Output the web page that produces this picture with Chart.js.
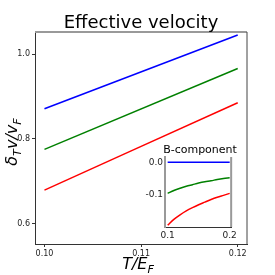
<html>
<head>
    <title>Effective velocity</title>
    <script src="https://cdn.jsdelivr.net/npm/chart.js"></script>
</head>
<style>
    body{ margin:0; background:#fff; }
    #wrap{ position:relative; width:275px; height:275px; }
    #inset{ position:absolute; left:145px; top:140px; }
</style>
<body>
<div id="wrap">
<canvas id="mainCanvas" width="275" height="275"></canvas>
<canvas id="inset" width="95" height="100"></canvas>
</div>
</body>

<script>
// main panel data
const tempX = [0.10, 0.12];
const blueY = [0.871, 1.045];
const greenY = [0.775, 0.966];
const redY = [0.679, 0.885];
const mainXTicks = [0.10, 0.11, 0.12];
const mainYTicks = [0.6, 0.8, 1.0];

// inset (B-component) data
const insetX = [0.10, 0.11, 0.12, 0.13, 0.14, 0.15, 0.16, 0.17, 0.18, 0.19, 0.20];
const insetBlue = [0.0, 0.0, 0.0, 0.0, 0.0, 0.0, 0.0, 0.0, 0.0, 0.0, 0.0];
const insetGreen = [-0.096, -0.087, -0.080, -0.074, -0.069, -0.064, -0.060, -0.057, -0.053, -0.050, -0.048];
const insetRed = [-0.194, -0.176, -0.162, -0.150, -0.140, -0.131, -0.123, -0.115, -0.108, -0.102, -0.096];
const insetXTicks = [0.1, 0.2];
const insetYTicks = [-0.1, 0.0];

const FONT = '"DejaVu Sans", sans-serif';
const INK = '#222';

function pts(xs, ys){
    return xs.map((x, i) => ({x: x, y: ys[i]}));
}

function line(label, xs, ys, color){
    return {
        label: label,
        data: pts(xs, ys),
        borderColor: color,
        borderWidth: 1.5,
        pointRadius: 0,
        cubicInterpolationMode: 'monotone',
        fill: false
    };
}

// draw text with subscripts, segments = [[text, isSub], ...]
function drawMath(ctx, segs, size){
    let total = 0;
    const widths = segs.map(s => {
        ctx.font = 'italic ' + (s[1] ? size * 0.7 : size) + 'px ' + FONT;
        const w = ctx.measureText(s[0]).width;
        total += w;
        return w;
    });
    let x = -total / 2;
    segs.forEach((s, i) => {
        ctx.font = 'italic ' + (s[1] ? size * 0.7 : size) + 'px ' + FONT;
        ctx.fillText(s[0], x, s[1] ? size * 0.25 : 0);
        x += widths[i];
    });
}

const mainDecor = {
    id: 'mainDecor',
    afterDraw(chart){
        const ctx = chart.ctx;
        const a = chart.chartArea;
        ctx.save();
        // top and right frame
        ctx.strokeStyle = '#999';
        ctx.lineWidth = 2;
        ctx.beginPath();
        ctx.moveTo(a.left, a.top);
        ctx.lineTo(a.right, a.top);
        ctx.stroke();
        ctx.strokeStyle = '#444';
        ctx.lineWidth = 1;
        ctx.beginPath();
        ctx.moveTo(a.right, a.top);
        ctx.lineTo(a.right, a.bottom);
        ctx.stroke();

        ctx.fillStyle = '#000';
        ctx.textBaseline = 'alphabetic';
        // title
        ctx.font = '18px ' + FONT;
        ctx.textAlign = 'center';
        ctx.fillText('Effective velocity', 141, 27.5);
        ctx.textAlign = 'left';

        // x label
        ctx.save();
        ctx.translate(138, 269);
        drawMath(ctx, [['T/E', false], ['F', true]], 16);
        ctx.restore();

        // y label
        ctx.save();
        ctx.translate(17, 142);
        ctx.rotate(-Math.PI / 2);
        drawMath(ctx, [['\u03B4', false], ['T', true], ['v/v', false], ['F', true]], 16);
        ctx.restore();
        ctx.restore();
    }
};

new Chart(document.getElementById('mainCanvas'), {
    type: 'line',
    data: {
        datasets: [
            line('blue', tempX, blueY, '#0000ff'),
            line('green', tempX, greenY, '#008000'),
            line('red', tempX, redY, '#ff0000')
        ]
    },
    options: {
        responsive: false,
        animation: false,
        layout: { padding: { top: 32, right: 28, left: 0, bottom: 0 } },
        plugins: { legend: { display: false }, tooltip: { enabled: false } },
        scales: {
            x: {
                type: 'linear',
                min: 0.09902,
                max: 0.12096,
                afterBuildTicks: s => { s.ticks = mainXTicks.map(v => ({value: v})); },
                afterFit: s => { s.height = 31; },
                border: { color: '#333', width: 1 },
                grid: { drawOnChartArea: false, tickLength: 3, color: '#333' },
                ticks: {
                    font: { family: FONT, size: 8 },
                    color: INK,
                    padding: 2,
                    maxRotation: 0,
                    callback: v => v.toFixed(2)
                }
            },
            y: {
                min: 0.5518,
                max: 1.052,
                afterBuildTicks: s => { s.ticks = mainYTicks.map(v => ({value: v})); },
                afterFit: s => { s.width = 35; },
                border: { color: '#333', width: 1 },
                grid: { drawOnChartArea: false, tickLength: 3, color: '#333' },
                ticks: {
                    font: { family: FONT, size: 8 },
                    color: INK,
                    padding: 2,
                    callback: v => v.toFixed(1)
                }
            }
        }
    },
    plugins: [mainDecor]
});

const insetDecor = {
    id: 'insetDecor',
    beforeDraw(chart){
        // white only inside the inset axes
        const ctx = chart.ctx;
        const a = chart.chartArea;
        ctx.save();
        ctx.fillStyle = '#fff';
        ctx.fillRect(a.left, a.top, a.right - a.left, a.bottom - a.top);
        ctx.restore();
    },
    afterDraw(chart){
        const ctx = chart.ctx;
        const a = chart.chartArea;
        ctx.save();
        ctx.strokeStyle = '#999';
        ctx.lineWidth = 2;
        ctx.beginPath();
        ctx.moveTo(a.right, a.top);
        ctx.lineTo(a.right, a.bottom);
        ctx.stroke();
        ctx.fillStyle = '#000';
        ctx.font = '11px ' + FONT;
        ctx.textAlign = 'center';
        ctx.fillText('B-component', 55, 13);
        ctx.restore();
    }
};

new Chart(document.getElementById('inset'), {
    type: 'line',
    data: {
        datasets: [
            line('blue', insetX, insetBlue, '#0000ff'),
            line('green', insetX, insetGreen, '#008000'),
            line('red', insetX, insetRed, '#ff0000')
        ]
    },
    options: {
        responsive: false,
        animation: false,
        layout: { padding: { top: 17, right: 7.5, left: 0, bottom: 0 } },
        plugins: { legend: { display: false }, tooltip: { enabled: false } },
        scales: {
            x: {
                type: 'linear',
                min: 0.0957,
                max: 0.2024,
                afterBuildTicks: s => { s.ticks = insetXTicks.map(v => ({value: v})); },
                afterFit: s => { s.height = 13; },
                border: { color: '#333', width: 1 },
                grid: { drawOnChartArea: false, drawTicks: false },
                ticks: {
                    font: { family: FONT, size: 9 },
                    color: INK,
                    padding: 3,
                    maxRotation: 0,
                    callback: v => v.toFixed(1)
                }
            },
            y: {
                min: -0.1997,
                max: 0.0164,
                afterBuildTicks: s => { s.ticks = insetYTicks.map(v => ({value: v})); },
                afterFit: s => { s.width = 20; },
                border: { color: '#999', width: 2 },
                grid: { drawOnChartArea: false, drawTicks: false },
                ticks: {
                    font: { family: FONT, size: 9 },
                    color: INK,
                    padding: 2,
                    callback: v => v.toFixed(1)
                }
            }
        }
    },
    plugins: [insetDecor]
});
</script>
</html>
